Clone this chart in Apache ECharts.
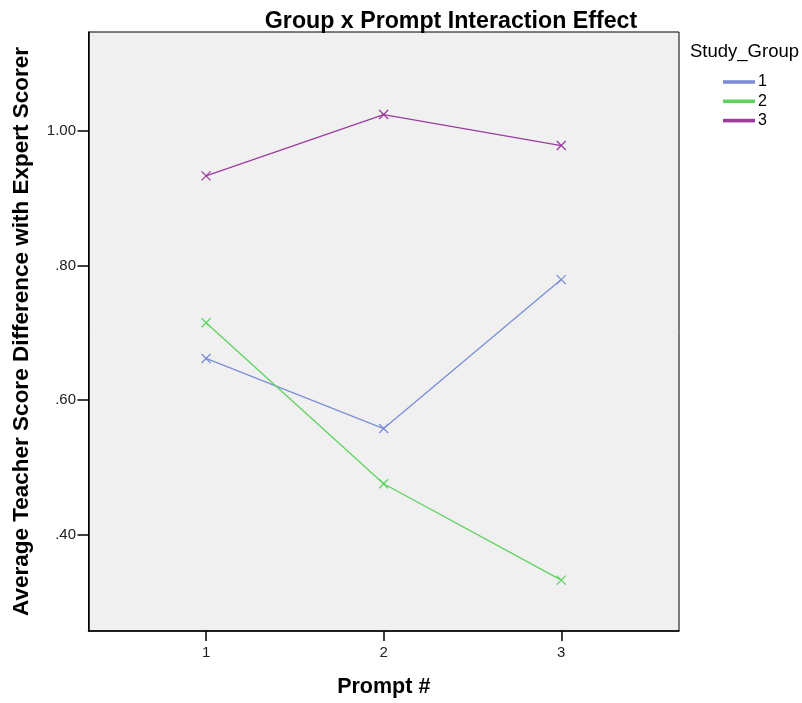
<!DOCTYPE html>
<html><head><meta charset="utf-8">
<script src="https://cdn.jsdelivr.net/npm/echarts@6/dist/echarts.min.js"></script>
<style>html,body{margin:0;padding:0;background:#fff}#c{width:802px;height:703px}</style>
</head><body><div id="c"></div>
<script>
const prompts = [1, 2, 3];
const groupNames = ['1', '2', '3'];
const group1 = [0.662, 0.558, 0.779];
const group2 = [0.715, 0.476, 0.333];
const group3 = [0.933, 1.024, 0.978];
const yTicks = [0.4, 0.6, 0.8, 1.0];
const colors = ['#7b8ed6', '#5fd35f', '#9c3c9c'];
const groups = [group1, group2, group3];

const xMark = 'path://M0,0L10,10M10,0L0,10';
const chart = echarts.init(document.getElementById('c'));
chart.setOption({
  animation: false,
  title: {
    text: 'Group x Prompt Interaction Effect',
    left: 446, top: 5, textAlign: 'center',
    textStyle: {fontFamily: 'Liberation Sans', fontSize: 23.2, fontWeight: 'bold', color: '#000'}
  },
  graphic: [{
    type: 'text', left: 690, top: 42,
    style: {text: 'Study_Group', fontFamily: 'Liberation Sans', fontSize: 18.5, fill: '#000'}
  }],
  legend: {
    orient: 'vertical', left: 718, top: 69, itemWidth: 30, itemHeight: 1.6, itemGap: 3.3,
    icon: 'rect',
    textStyle: {fontFamily: 'Liberation Sans', fontSize: 16, color: '#000', padding: [0,0,0,-1]},
    data: groupNames
  },
  grid: {left: 88.5, top: 32, right: 123, bottom: 69, show: true, backgroundColor: '#f0f0f0', borderColor: '#000', borderWidth: 1},
  xAxis: {
    type: 'value', min: 0.338, max: 3.663,
    name: 'Prompt #', nameLocation: 'middle', nameGap: 45,
    nameTextStyle: {fontFamily: 'Liberation Sans', fontSize: 21.5, fontWeight: 'bold', color: '#000'},
    axisLine: {show: true, lineStyle: {color: '#000', width: 1.5}},
    axisTick: {show: true, length: 10, customValues: prompts, lineStyle: {color: '#000', width: 1.5}},
    axisLabel: {customValues: prompts, fontFamily: 'Liberation Sans', fontSize: 15, color: '#222', margin: 14},
    splitLine: {show: false}
  },
  yAxis: {
    type: 'value', min: 0.2575, max: 1.1465,
    name: 'Average Teacher Score Difference with Expert Scorer', nameLocation: 'middle', nameGap: 55.5,
    nameTextStyle: {fontFamily: 'Liberation Sans', fontSize: 22.5, fontWeight: 'bold', color: '#000'},
    axisLine: {show: true, lineStyle: {color: '#000', width: 1.5}},
    axisTick: {show: true, length: 11, customValues: yTicks, lineStyle: {color: '#000', width: 1.5}},
    axisLabel: {customValues: yTicks, fontFamily: 'Liberation Sans', fontSize: 15, color: '#222', margin: 12.5,
      formatter: v => { const s = v.toFixed(2); return s.startsWith('0') ? s.slice(1) : s; }},
    splitLine: {show: false}
  },
  series: groups.map((g, i) => ({
    name: groupNames[i], type: 'line',
    data: prompts.map((p, j) => [p, g[j]]),
    symbol: xMark, symbolSize: 9, showSymbol: true,
    lineStyle: {color: colors[i], width: 1.3},
    itemStyle: {color: colors[i], borderColor: colors[i], borderWidth: 1.3}
  }))
});
</script></body></html>
